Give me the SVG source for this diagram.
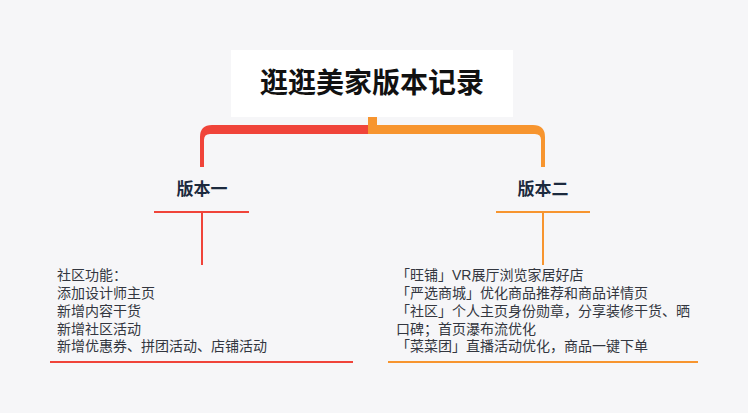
<svg xmlns="http://www.w3.org/2000/svg" width="748" height="413" viewBox="0 0 748 413">
<style>
text{font-family:"Noto Sans CJK SC","Noto Sans",sans-serif}
.title{font-size:28px;font-weight:bold;fill:#111;text-anchor:middle}
.lbl{font-size:17px;font-weight:bold;fill:#1c2a3e;text-anchor:middle}
.body{font-family:"Liberation Sans","Noto Sans CJK SC",sans-serif;font-size:14px;fill:#33363f}
.red{fill:#f0443a}
.org{fill:#f7952f}
.rl{stroke:#f0443a;fill:none}
.ol{stroke:#f7952f;fill:none}
</style>
<rect width="748" height="413" fill="#f6f6f8"/>
<g id="connectors">
<rect class="org" x="368" y="116" width="9" height="10"/>
<path class="red" d="M368 125 H212 Q200 125 200 137 V167 H204 V140 Q204 134 210 134 H368 Z"/>
<path class="org" d="M368 125 H533 Q545 125 545 137 V167 H541 V140 Q541 134 535 134 H368 Z"/>
<line class="rl" x1="154" y1="212" x2="249" y2="212" stroke-width="2"/>
<line class="rl" x1="202" y1="212" x2="202" y2="265" stroke-width="2"/>
<line class="ol" x1="496" y1="212" x2="590" y2="212" stroke-width="2"/>
<line class="ol" x1="543" y1="212" x2="543" y2="265" stroke-width="2"/>
<line class="rl" x1="50" y1="362" x2="353" y2="362" stroke-width="2"/>
<line class="ol" x1="388" y1="362" x2="698" y2="362" stroke-width="2"/>
</g>
<g id="root">
<rect x="231" y="50" width="282" height="67" fill="#ffffff"/>
<text class="title" x="372" y="93">逛逛美家版本记录</text>
</g>
<g id="v1">
<text class="lbl" x="202" y="195">版本一</text>
</g>
<g id="v2">
<text class="lbl" x="543" y="195">版本二</text>
</g>
<g id="v1-detail">
<text class="body" x="57" y="280">社区功能：</text>
<text class="body" x="57" y="298">添加设计师主页</text>
<text class="body" x="57" y="316">新增内容干货</text>
<text class="body" x="57" y="333.5">新增社区活动</text>
<text class="body" x="57" y="351">新增优惠券、拼团活动、店铺活动</text>
</g>
<g id="v2-detail">
<text class="body" x="396" y="280">「旺铺」VR展厅浏览家居好店</text>
<text class="body" x="396" y="298">「严选商城」优化商品推荐和商品详情页</text>
<text class="body" x="396" y="316">「社区」个人主页身份勋章，分享装修干货、晒</text>
<text class="body" x="396" y="333.5">口碑；首页瀑布流优化</text>
<text class="body" x="396" y="351">「菜菜团」直播活动优化，商品一键下单</text>
</g>
</svg>
